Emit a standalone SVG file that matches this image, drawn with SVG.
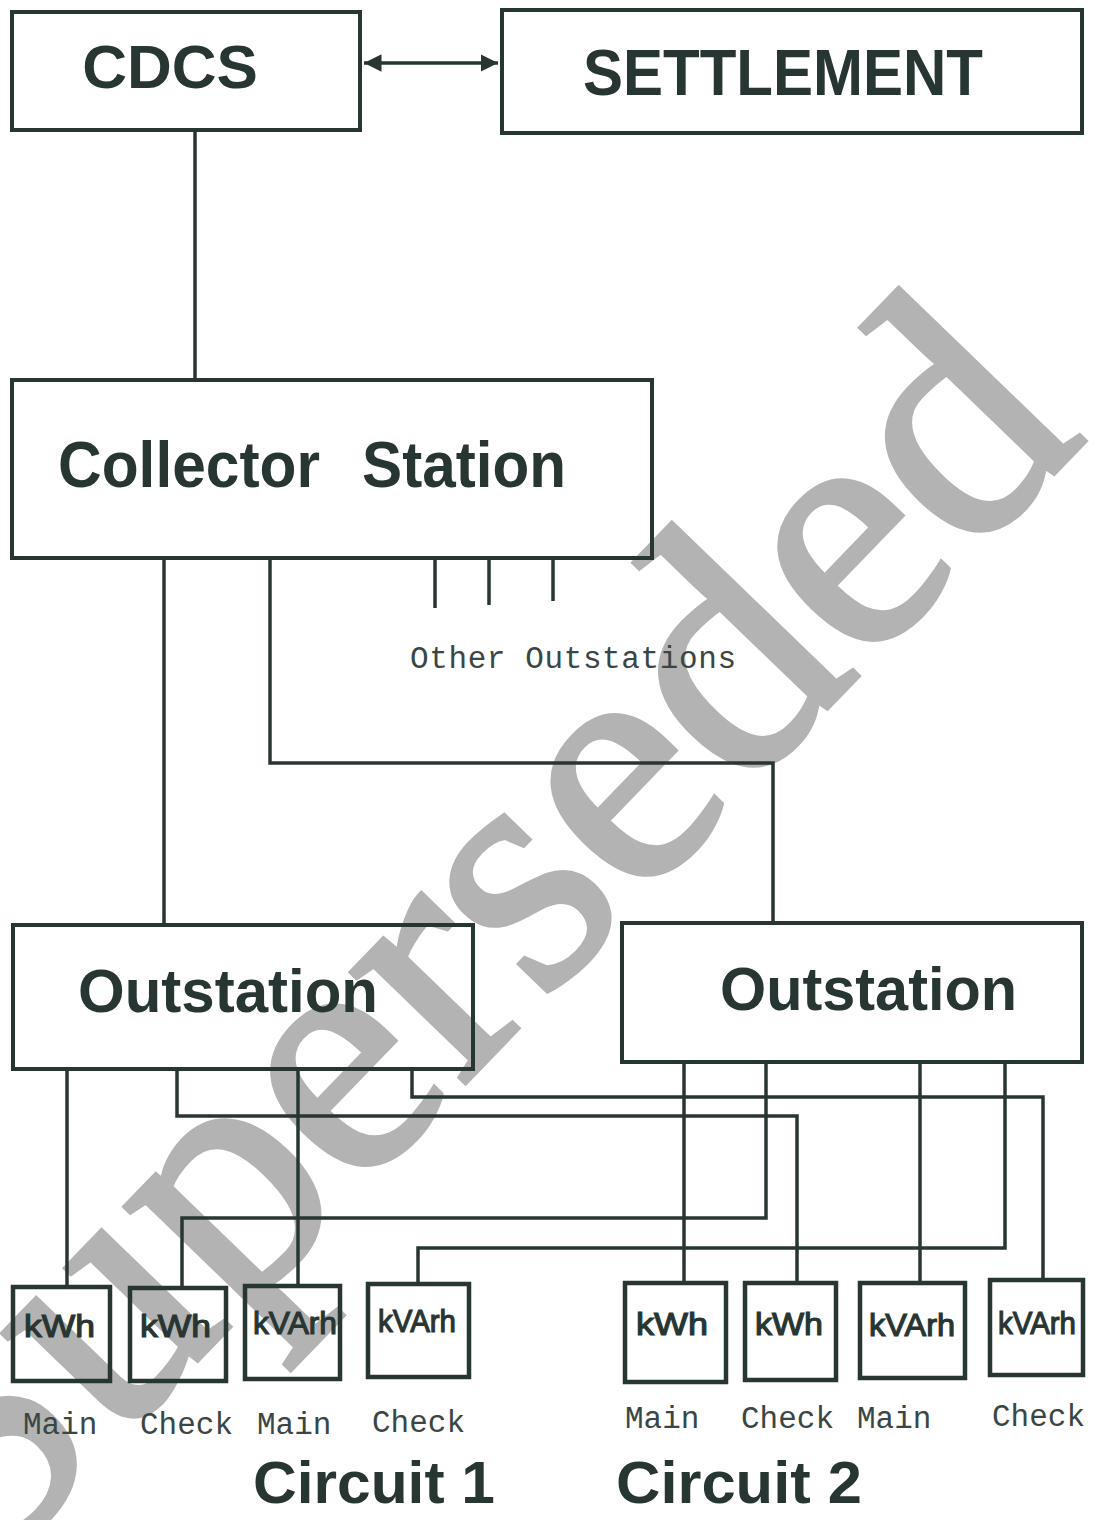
<svg xmlns="http://www.w3.org/2000/svg" width="1098" height="1520" viewBox="0 0 1098 1520">
<style>
.box{fill:none;stroke:#283633;stroke-width:4;stroke-linejoin:miter}
.meter{fill:none;stroke:#283633;stroke-width:4.5}
.wire{fill:none;stroke:#283633;stroke-width:3.5;stroke-linejoin:miter}
.big{font-family:"Liberation Sans",Arial,sans-serif;font-weight:bold;fill:#283633}
.mono{font-family:"Liberation Mono","Courier New",monospace;font-size:31px;fill:#3a4644}
.hand{font-family:"Liberation Sans",Arial,sans-serif;font-size:32px;fill:#283633;stroke:#283633;stroke-width:1.2}
.wm{font-family:"Liberation Serif","Times New Roman",serif;font-size:346px;fill:#b3b3b3;stroke:#b3b3b3;stroke-width:5}
</style>
<defs>
<marker id="ah" viewBox="0 0 10 10" refX="10" refY="5" markerWidth="5" markerHeight="5" orient="auto-start-reverse" markerUnits="strokeWidth">
<path d="M0,0 L10,5 L0,10 z" fill="#283633"/>
</marker>
</defs>
<rect width="1098" height="1520" fill="#ffffff"/>
<g id="watermark">
<text class="wm" x="0" y="0" text-anchor="end" transform="translate(1088,438) rotate(-46)">Superseded</text>
</g>
<g id="connectors">
<line class="wire" x1="364" y1="63" x2="498" y2="63" marker-start="url(#ah)" marker-end="url(#ah)"/>
<line class="wire" x1="195" y1="130" x2="195" y2="380"/>
<line class="wire" x1="435" y1="558" x2="435" y2="608"/>
<line class="wire" x1="489" y1="558" x2="489" y2="605"/>
<line class="wire" x1="553" y1="558" x2="553" y2="601"/>
<line class="wire" x1="164" y1="558" x2="164" y2="925"/>
<polyline class="wire" points="270,558 270,763 773,763 773,923"/>
<line class="wire" x1="67" y1="1069" x2="67" y2="1287"/>
<polyline class="wire" points="177,1069 177,1116 797,1116 797,1283"/>
<line class="wire" x1="298" y1="1069" x2="298" y2="1285"/>
<polyline class="wire" points="412,1069 412,1097 1043,1097 1043,1280"/>
<line class="wire" x1="684" y1="1062" x2="684" y2="1283"/>
<polyline class="wire" points="766,1062 766,1218 182,1218 182,1287"/>
<line class="wire" x1="920" y1="1062" x2="920" y2="1283"/>
<polyline class="wire" points="1005,1062 1005,1248 418,1248 418,1283"/>
</g>
<g id="cdcs">
<rect class="box" x="12" y="12" width="348" height="118"/>
<text class="big" x="170" y="88" font-size="62" text-anchor="middle">CDCS</text>
</g>
<g id="settlement">
<rect class="box" x="502" y="10" width="580" height="123"/>
<text class="big" x="583" y="95" font-size="64" textLength="400" lengthAdjust="spacingAndGlyphs">SETTLEMENT</text>
</g>
<g id="collector">
<rect class="box" x="12" y="380" width="640" height="178"/>
<text class="big" x="58" y="487" font-size="64" textLength="262" lengthAdjust="spacingAndGlyphs">Collector</text>
<text class="big" x="362" y="487" font-size="64" textLength="204" lengthAdjust="spacingAndGlyphs">Station</text>
</g>
<g id="other-outstations">
<text class="mono" x="410" y="668" textLength="326">Other Outstations</text>
</g>
<g id="outstation1">
<rect class="box" x="13" y="925" width="460" height="144"/>
<text class="big" x="78" y="1012" font-size="62" textLength="300" lengthAdjust="spacingAndGlyphs">Outstation</text>
</g>
<g id="outstation2">
<rect class="box" x="622" y="923" width="460" height="139"/>
<text class="big" x="720" y="1010" font-size="62" textLength="297" lengthAdjust="spacingAndGlyphs">Outstation</text>
</g>
<g id="c1-kwh-main">
<rect class="meter" x="13" y="1287" width="97" height="94"/>
<text class="hand" x="24" y="1337" textLength="71" lengthAdjust="spacingAndGlyphs">kWh</text>
</g>
<g id="c1-kwh-check">
<rect class="meter" x="130" y="1288" width="96" height="93"/>
<text class="hand" x="140" y="1337" textLength="71" lengthAdjust="spacingAndGlyphs">kWh</text>
</g>
<g id="c1-kvarh-main">
<rect class="meter" x="245" y="1286" width="95" height="93"/>
<text class="hand" x="253" y="1334" textLength="84" lengthAdjust="spacingAndGlyphs">kVArh</text>
</g>
<g id="c1-kvarh-check">
<rect class="meter" x="368" y="1284" width="101" height="93"/>
<text class="hand" x="378" y="1332" textLength="78" lengthAdjust="spacingAndGlyphs">kVArh</text>
</g>
<g id="c2-kwh-main">
<rect class="meter" x="625" y="1283" width="101" height="99"/>
<text class="hand" x="636" y="1335" textLength="72" lengthAdjust="spacingAndGlyphs">kWh</text>
</g>
<g id="c2-kwh-check">
<rect class="meter" x="745" y="1283" width="91" height="97"/>
<text class="hand" x="755" y="1335" textLength="68" lengthAdjust="spacingAndGlyphs">kWh</text>
</g>
<g id="c2-kvarh-main">
<rect class="meter" x="860" y="1283" width="105" height="95"/>
<text class="hand" x="869" y="1336" textLength="86" lengthAdjust="spacingAndGlyphs">kVArh</text>
</g>
<g id="c2-kvarh-check">
<rect class="meter" x="990" y="1280" width="93" height="95"/>
<text class="hand" x="998" y="1334" textLength="78" lengthAdjust="spacingAndGlyphs">kVArh</text>
</g>
<g id="labels">
<text class="mono" x="23" y="1434">Main</text>
<text class="mono" x="140" y="1434">Check</text>
<text class="mono" x="257" y="1434">Main</text>
<text class="mono" x="372" y="1432">Check</text>
<text class="mono" x="625" y="1428">Main</text>
<text class="mono" x="741" y="1428">Check</text>
<text class="mono" x="857" y="1428">Main</text>
<text class="mono" x="992" y="1426">Check</text>
<text class="big" x="253" y="1503" font-size="60" textLength="242" lengthAdjust="spacingAndGlyphs">Circuit 1</text>
<text class="big" x="616" y="1503" font-size="60" textLength="246" lengthAdjust="spacingAndGlyphs">Circuit 2</text>
</g>
</svg>
